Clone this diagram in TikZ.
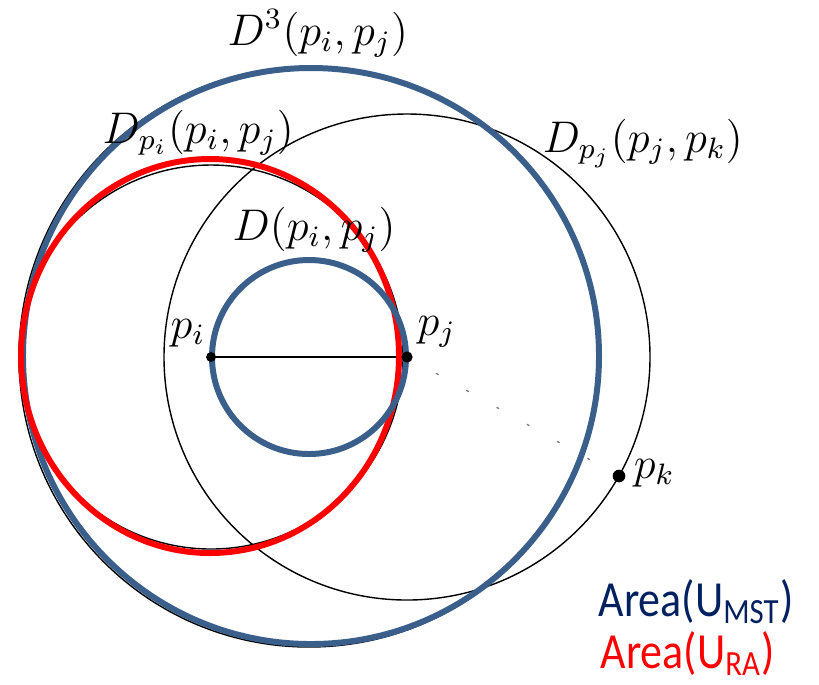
\documentclass[tikz,border=0pt]{standalone}
\usepackage{fontspec}
\newfontfamily\calibri{Carlito}
\usepackage{amsmath}
\usepackage{tikz}
\usetikzlibrary{positioning,calc}
\usepackage{xcolor}
\definecolor{mstblue}{RGB}{58,95,139}
\definecolor{mstdark}{RGB}{0,32,96}

\begin{document}
\begin{tikzpicture}[x=0.01cm,y=-0.01cm,
    lbl/.style={anchor=base west,inner sep=0pt,font=\large,scale=1.05,transform shape},
    arealbl/.style={anchor=base west,inner sep=0pt,font=\calibri\fontsize{12.5}{15}\selectfont},
    thick line/.style={line width=1.7pt}]
  \useasboundingbox (0,0) rectangle (819,684);
  \coordinate (pi) at (211,357);
  \coordinate (pj) at (407,357);
  \coordinate (pk) at (619,476);
  \coordinate (mid) at ($(pi)!0.5!(pj)$);
  % thin circles
  \draw (pj) circle (243);
  \draw (pi) circle (192);
  \draw (mid) circle (290);
  \draw (pi) -- (pj);
  \draw[gray,line cap=round,dash pattern=on 0.6pt off 9.27pt,dash phase=0.3pt] (pj) -- (pk);
  % coloured outlines
  \draw[mstblue,thick line] ($(mid)+(2,-1)$) circle (288);
  \draw[red,thick line] (210,356) ellipse (189 and 197);
  \draw[mstblue,thick line] (mid) circle (97);
  \fill (pi) circle (1.4pt); \fill (pj) circle (1.6pt); \fill (pk) circle (1.8pt);
  \node[lbl] (lpi) at (170,338) {$p_i$};
  \node[lbl] (lpj) at (417,335) {$p_j$};
  \node[lbl] (lpk) at (633,478) {$p_k$};
  \node[lbl] (ld3) at (227,45) {$D^3(p_i,p_j)$};
  \node[lbl] (ldpi) at (102,143) {$D_{p_i}(p_i,p_j)$};
  \node[lbl] (ld) at (232,240) {$D(p_i,p_j)$};
  \node[lbl] (ldpj) at (542,152) {$D_{p_j}(p_j,p_k)$};
  \node[arealbl,text=mstdark] (amst) at (598,616) {\scalebox{1}[1.15]{Area(U\textsubscript{MST})}};
  \node[arealbl,text=red] (ara) at (600,668) {\scalebox{1}[1.15]{Area(U\textsubscript{RA})}};
\end{tikzpicture}
\end{document}
